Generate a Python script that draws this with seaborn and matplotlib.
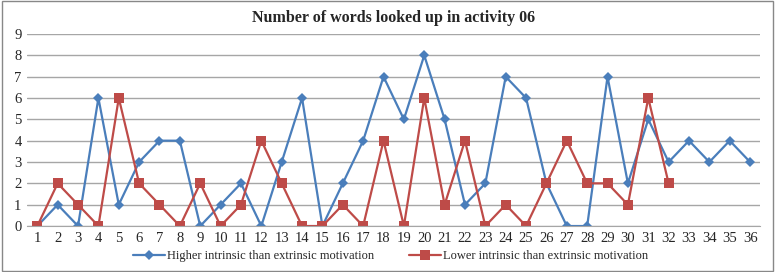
import numpy as np
import pandas as pd
import matplotlib
matplotlib.use("Agg")
import matplotlib.pyplot as plt
import seaborn as sns
from matplotlib.patches import Rectangle

# ==========================================================
# Data
# ==========================================================

participants = list(range(1, 37))

higher = [0, 1, 0, 6, 1, 3, 4, 4, 0, 1, 2, 0, 3, 6, 0, 2, 4, 7, 5, 8,
          5, 1, 2, 7, 6, 2, 0, 0, 7, 2, 5, 3, 4, 3, 4, 3]

lower = [0, 2, 1, 0, 6, 2, 1, 0, 2, 0, 1, 4, 2, 0, 0, 1, 0, 4, 0, 6,
         1, 4, 0, 1, 0, 2, 4, 2, 2, 1, 6, 2]

label_higher = "Higher intrinsic than extrinsic motivation"
label_lower = "Lower intrinsic than extrinsic motivation"

df_h = pd.DataFrame({"x": participants, "y": higher})
df_l = pd.DataFrame({"x": participants[:len(lower)], "y": lower})

# ==========================================================
# Plot
# ==========================================================

sns.set_style("white")
plt.rcParams['font.family'] = ['Liberation Serif', 'DejaVu Serif']

fig = plt.figure(figsize=(7.75, 2.72), dpi=100)
ax = fig.add_axes([0.035, 0.169, 0.946, 0.706])

sns.lineplot(data=df_h, x="x", y="y", ax=ax, color="#4a7ebb", lw=1.6,
             marker="D", markersize=5, markeredgewidth=0,
             label=label_higher)
sns.lineplot(data=df_l, x="x", y="y", ax=ax, color="#be4b48", lw=1.6,
             marker="s", markersize=7, markeredgewidth=0,
             label=label_lower)

ax.set_xlim(0.5, 36.5)
ax.set_ylim(0, 9)
ax.set_xticks(participants)
ax.set_yticks(range(10))
ax.tick_params(axis="both", labelsize=10.5, length=0, pad=4)
ax.yaxis.grid(True, color="#a6a6a6", lw=1)
ax.set_axisbelow(True)
ax.set_xlabel("")
ax.set_ylabel("")
for s in ["top", "right", "left"]:
    ax.spines[s].set_visible(False)
ax.spines["bottom"].set_color("#a6a6a6")

ax.set_title("Number of words looked up in activity 06", fontsize=11.5,
             fontweight="bold", pad=9)

ax.legend(loc="upper center", bbox_to_anchor=(0.496, -0.1), ncol=2,
          frameon=False, fontsize=9, handlelength=2.5, handletextpad=0.2,
          columnspacing=2.8, borderaxespad=0)

fig.patches.append(Rectangle((0.002, 0.004), 0.996, 0.992,
                             transform=fig.transFigure, fill=False,
                             edgecolor="#888888", lw=1))

fig.savefig("out.png", dpi=100)
